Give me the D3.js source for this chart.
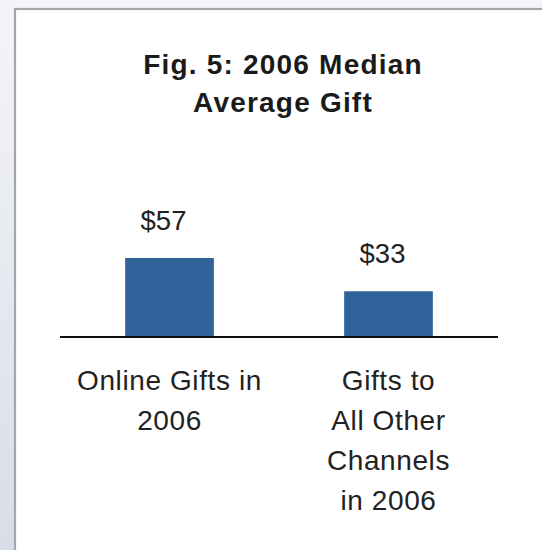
<!DOCTYPE html>
<html><head><meta charset="utf-8">
<script src="https://cdn.jsdelivr.net/npm/d3@7"></script>
<style>html,body{margin:0;padding:0;background:#fff;}svg{display:block;}</style>
</head><body>
<script>
const categories = ["Online Gifts in 2006", "Gifts to All Other Channels in 2006"];
const categoryLines = [["Online Gifts in", "2006"], ["Gifts to", "All Other", "Channels", "in 2006"]];
const values = [57, 33];
const valueLabels = ["$57", "$33"];
const titleLines = ["Fig. 5: 2006 Median", "Average Gift"];

const W = 542, H = 550;
const svg = d3.select("body").append("svg").attr("width", W).attr("height", H);
const defs = svg.append("defs");
const g1 = defs.append("linearGradient").attr("id","bg").attr("x1",0).attr("y1",0).attr("x2",0).attr("y2",1);
g1.append("stop").attr("offset","0%").attr("stop-color","#f4f5f9");
g1.append("stop").attr("offset","100%").attr("stop-color","#d8dde8");
svg.append("rect").attr("width",W).attr("height",H).attr("fill","url(#bg)");
// panel
svg.append("rect").attr("x",15).attr("y",9).attr("width",W+10).attr("height",H+10)
  .attr("fill","#fff").attr("stroke","#a6a6a6").attr("stroke-width",2.2);

const x = d3.scaleBand().domain(categories).range([60, 498]).padding(0);
const y = d3.scaleLinear().domain([0, 57]).range([337, 258]);
const bw = x.bandwidth() * 0.405;

// title
const title = svg.append("text").attr("text-anchor","middle")
  .attr("font-family","'Liberation Sans', Arial, sans-serif").attr("font-weight","bold")
  .attr("font-size",28).attr("letter-spacing",1.2).attr("fill","#1a1a1a");
titleLines.forEach((t,i)=>title.append("tspan").attr("x",283).attr("y",73.5 + i*38.5).text(t));

// bars
svg.selectAll("rect.bar").data(values).enter().append("rect").attr("class","bar")
  .attr("x",(d,i)=>x(categories[i]) + x.bandwidth()/2 - bw/2)
  .attr("width",bw)
  .attr("y",d=>y(d)).attr("height",d=>y(0)-y(d))
  .attr("fill","#30639a");

// value labels
svg.selectAll("text.val").data(values).enter().append("text").attr("class","val")
  .attr("x",(d,i)=>x(categories[i]) + x.bandwidth()/2 - 6)
  .attr("y",d=>y(d)-28)
  .attr("text-anchor","middle")
  .attr("font-family","'Liberation Sans', Arial, sans-serif").attr("font-size",27.5)
  .attr("fill","#222").text((d,i)=>valueLabels[i]);

// baseline
svg.append("line").attr("x1",x.range()[0]).attr("x2",x.range()[1])
  .attr("y1",y(0)).attr("y2",y(0)).attr("stroke","#111").attr("stroke-width",2);

// category labels
categoryLines.forEach((lines,i)=>{
  const t = svg.append("text").attr("text-anchor","middle")
    .attr("font-family","'Liberation Sans', Arial, sans-serif").attr("font-size",28)
    .attr("letter-spacing",0.6).attr("fill","#222");
  lines.forEach((l,j)=>t.append("tspan").attr("x",x(categories[i]) + x.bandwidth()/2).attr("y",390 + j*40).text(l));
});
</script>
</body></html>
